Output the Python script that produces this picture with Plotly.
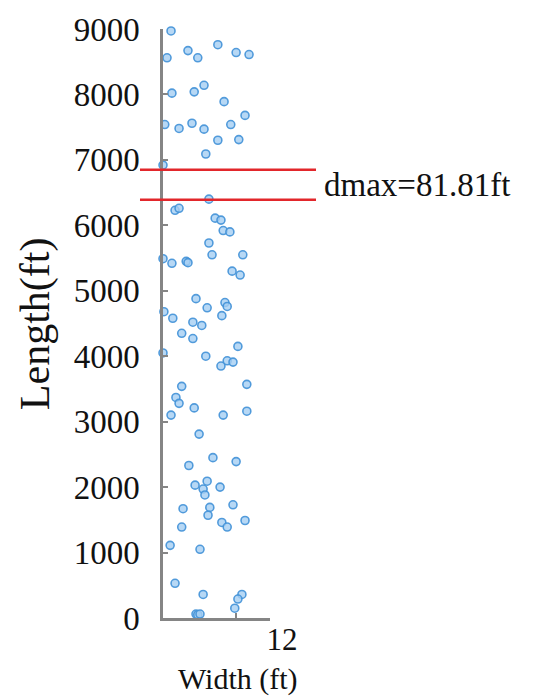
import plotly.graph_objects as go

# Data
width_ft = [0.9, 2.8, 3.9, 0.45, 6.15, 8.2, 9.65, 4.6, 3.5, 1.0,
            6.85, 9.2, 0.2, 1.8, 3.25, 4.6, 7.6, 6.15, 8.5, 4.8,
            0.0, 5.15, 1.35, 1.8, 5.85, 6.5, 6.75, 7.5, 5.15, 5.5,
            8.95, 0.0, 1.0, 2.6, 2.8, 7.75, 8.65, 3.7, 4.95, 6.95,
            7.2, 0.1, 6.6, 1.1, 3.35, 4.35, 2.1, 3.35, 8.4, 0.0,
            4.8, 7.2, 7.85, 6.5, 9.4, 2.1, 1.45, 1.8, 3.5, 0.9,
            6.75, 9.4, 4.05, 5.6, 8.2, 2.9, 3.6, 4.95, 4.5, 4.7,
            6.4, 2.25, 5.25, 7.85, 5.05, 6.6, 7.2, 9.2, 2.1, 0.8,
            4.15, 1.35, 4.5, 8.85, 8.4, 8.05, 3.7, 3.9, 4.15]
length_ft = [8970, 8670, 8560, 8560, 8760, 8640, 8610, 8140, 8040, 8020,
             7890, 7680, 7540, 7480, 7560, 7470, 7540, 7300, 7310, 7090,
             6920, 6400, 6230, 6260, 6110, 6080, 5920, 5900, 5730, 5550,
             5550, 5490, 5420, 5450, 5430, 5300, 5240, 4880, 4740, 4820,
             4760, 4680, 4620, 4580, 4520, 4470, 4350, 4270, 4150, 4050,
             4000, 3930, 3910, 3850, 3570, 3540, 3370, 3280, 3210, 3100,
             3100, 3160, 2810, 2450, 2390, 2330, 2030, 2090, 1970, 1880,
             2000, 1670, 1690, 1730, 1570, 1460, 1390, 1490, 1390, 1110,
             1050, 530, 360, 360, 290, 150, 60, 50, 60]

y_ticks = [0, 1000, 2000, 3000, 4000, 5000, 6000, 7000, 8000, 9000]
x_ticks = [12]
x_tick_labels = ["12"]
dmax_lines = [6850, 6390]
dmax_label = "dmax=81.81ft"

serif = "Liberation Serif, Times New Roman, serif"
axis_grey = "#858585"

fig = go.Figure()
fig.add_trace(go.Scatter(
    x=width_ft, y=length_ft, mode="markers",
    marker=dict(size=8, color="rgba(165,206,242,0.8)",
                line=dict(color="rgba(65,145,215,0.9)", width=1.6)),
    cliponaxis=False, showlegend=False,
))

for yv in dmax_lines:
    fig.add_shape(type="line", xref="paper", yref="y",
                  x0=-0.215, x1=1.43, y0=yv, y1=yv,
                  line=dict(color="#e2262b", width=2.5), layer="above")

fig.add_annotation(text=dmax_label, xref="paper", yref="y",
                   x=1.49, y=sum(dmax_lines) / 2, xanchor="left", yanchor="middle",
                   showarrow=False, font=dict(family=serif, size=33, color="#111"))

fig.add_annotation(text="Length(ft)", xref="paper", yref="paper",
                   x=-1.19, y=0.5, xanchor="center", yanchor="middle",
                   textangle=-90, showarrow=False,
                   font=dict(family=serif, size=42, color="#111"))

fig.add_annotation(text="Width (ft)", xref="paper", yref="paper",
                   x=0.70, y=-0.104, xanchor="center", yanchor="middle",
                   showarrow=False, font=dict(family=serif, size=30, color="#111"))

fig.update_layout(
    width=535, height=698,
    margin=dict(l=163, r=265, t=20, b=80),
    paper_bgcolor="white", plot_bgcolor="white",
    xaxis=dict(range=[0, 12], tickvals=x_ticks, ticktext=x_tick_labels,
               showgrid=False, zeroline=False, showline=True,
               linecolor=axis_grey, linewidth=2.5,
               ticks="", ticklabelshift=12, ticklabelstandoff=-8,
               minor=dict(tickvals=[8.2], ticks="inside", ticklen=5,
                          tickcolor=axis_grey, tickwidth=2),
               tickfont=dict(family=serif, size=31, color="#111")),
    yaxis=dict(range=[0, 9000], tickvals=y_ticks,
               showgrid=False, zeroline=False, showline=True,
               linecolor=axis_grey, linewidth=2.5,
               ticks="inside", ticklen=5, tickcolor=axis_grey, tickwidth=2,
               ticklabelstandoff=14,
               tickfont=dict(family=serif, size=33, color="#111")),
)

fig.write_html("out.html")
